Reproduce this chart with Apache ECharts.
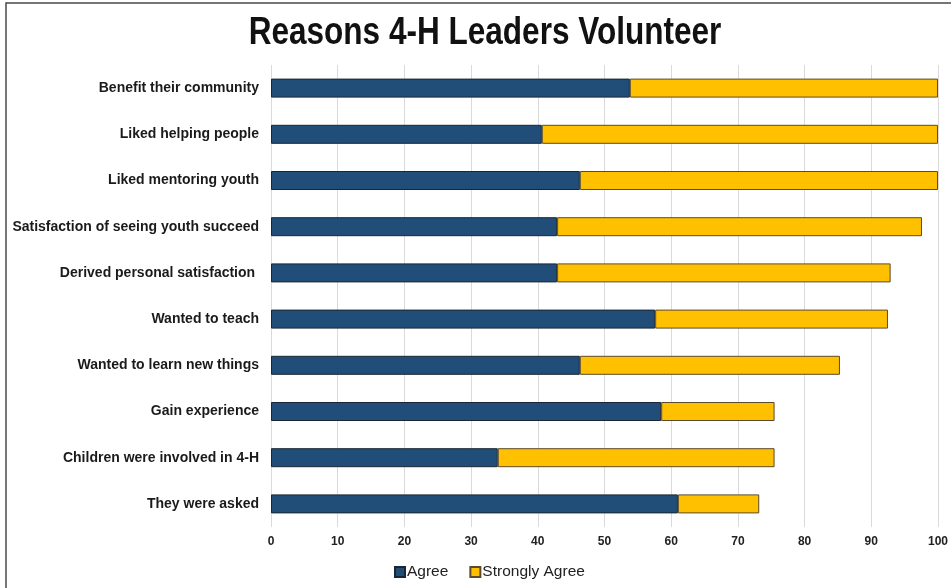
<!DOCTYPE html>
<html>
<head>
<meta charset="utf-8">
<script src="https://cdn.jsdelivr.net/npm/echarts@6/dist/echarts.min.js"></script>
<style>
  html, body { margin: 0; padding: 0; background: #fff; }
  #chart { width: 951px; height: 588px; }
</style>
</head>
<body>
<div id="chart"></div>
<script>
const titleText = 'Reasons 4-H Leaders Volunteer';
const categories = [
  'Benefit their community',
  'Liked helping people',
  'Liked mentoring youth',
  'Satisfaction of seeing youth succeed',
  'Derived personal satisfaction ',
  'Wanted to teach',
  'Wanted to learn new things',
  'Gain experience',
  'Children were involved in 4-H',
  'They were asked'
];
const seriesNames = ['Agree', 'Strongly Agree'];
const agree = [53.8, 40.6, 46.3, 42.9, 42.9, 57.6, 46.3, 58.5, 34.0, 61.0];
const stronglyAgree = [46.2, 59.4, 53.7, 54.7, 50.0, 34.9, 39.0, 17.0, 41.5, 12.2];
const xMin = 0, xMax = 100, xInterval = 10;

const FONT = '"Liberation Sans", Arial, sans-serif';
const chart = echarts.init(document.getElementById('chart'));
chart.setOption({
  backgroundColor: '#ffffff',
  animation: false,
  graphic: [
    {
      type: 'rect',
      shape: { x: 6, y: 3, width: 1200, height: 1200 },
      style: { fill: 'none', stroke: '#4a4a4a', lineWidth: 1.5 },
      silent: true
    },
    {
      type: 'text',
      x: 485, y: 34,
      scaleX: 0.83,
      style: {
        text: titleText,
        font: 'bold 38px ' + FONT,
        fill: '#111111',
        textAlign: 'center',
        textVerticalAlign: 'middle'
      }
    }
  ],
  grid: { left: 271, right: 10, top: 65, bottom: 61, containLabel: false },
  legend: {
    data: seriesNames,
    left: 389,
    top: 559,
    itemWidth: 10,
    itemHeight: 10,
    itemGap: 21,
    icon: 'rect',
    textStyle: { fontFamily: FONT, fontSize: 15.5, color: '#222', padding: [0, 0, 0, -3] }
  },
  xAxis: {
    type: 'value',
    min: xMin, max: xMax, interval: xInterval,
    axisLine: { show: false },
    axisTick: { show: false },
    splitLine: { show: true, lineStyle: { color: '#dadada', width: 1 } },
    axisLabel: { fontFamily: FONT, fontSize: 12, fontWeight: 'bold', color: '#222', margin: 9 }
  },
  yAxis: {
    type: 'category',
    data: categories,
    inverse: true,
    axisLine: { show: false },
    axisTick: { show: false },
    axisLabel: { fontFamily: FONT, fontSize: 14, fontWeight: 'bold', color: '#1a1a1a', margin: 12 }
  },
  series: [
    {
      name: seriesNames[0], type: 'bar', stack: 'total', data: agree, barWidth: 19,
      itemStyle: { color: '#214e79', borderColor: '#1a2633', borderWidth: 1 }
    },
    {
      name: seriesNames[1], type: 'bar', stack: 'total', data: stronglyAgree, barWidth: 19,
      itemStyle: { color: '#ffc000', borderColor: '#5c4a2a', borderWidth: 1 }
    }
  ]
});
</script>
</body>
</html>
